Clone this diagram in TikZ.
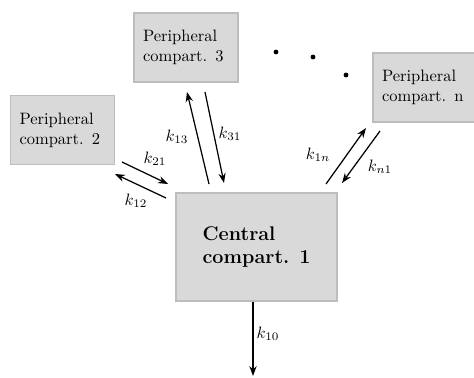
\documentclass[tikz,border=0pt]{standalone}
\usetikzlibrary{arrows.meta}
\definecolor{boxfill}{HTML}{D9D9D9}
\definecolor{boxline}{HTML}{BDBDBD}
\begin{document}
\begin{tikzpicture}[x=0.606pt,y=-0.606pt,
  comp/.style={draw=boxline,fill=boxfill,line width=1.2pt,align=left,inner sep=0pt},
  peri/.style={comp,inner xsep=9*0.606pt,text width=86*0.606pt,minimum height=69*0.606pt},
  flow/.style={-{Stealth[length=6pt,width=4.4pt]},line width=0.75pt},
  lab/.style={inner sep=0pt}]
\useasboundingbox (0,0) rectangle (474,377);
\node[peri] (c3) at (186,47.5) {Peripheral\\compart. 3};
\node[peri] (c2) at (62.5,130) {Peripheral\\compart. 2};
\node[peri] (cn) at (425,87.5) {Peripheral\\compart. n};
\node[comp,minimum width=161*0.606pt,minimum height=108*0.606pt,font=\large\bfseries] (c1) at (256.5,247) {Central\\compart. 1};
\foreach \p [count=\i] in {(276,52),(313,57),(346,75)}
  \fill \p circle[radius=2.4];
\coordinate (a13s) at (209,184); \coordinate (a13e) at (187,92);
\coordinate (a31s) at (205,92);  \coordinate (a31e) at (224,183);
\coordinate (a21s) at (122,162); \coordinate (a21e) at (168,184);
\coordinate (a12s) at (166,198); \coordinate (a12e) at (115,174);
\coordinate (a1ns) at (326,184); \coordinate (a1ne) at (366,128);
\coordinate (an1s) at (380,131); \coordinate (an1e) at (342,183);
\coordinate (a10s) at (c1.south); \coordinate (a10e) at (253,376);
\draw[flow] (a13s) -- (a13e);
\draw[flow] (a31s) -- (a31e);
\draw[flow] (a21s) -- (a21e);
\draw[flow] (a12s) -- (a12e);
\draw[flow] (a1ns) -- (a1ne);
\draw[flow] (an1s) -- (an1e);
\draw[flow] (a10s -| a10e) -- (a10e);
\node[lab] (l13) at (177,137) {$k_{13}$};
\node[lab] (l31) at (230,134) {$k_{31}$};
\node[lab] (l21) at (155,159) {$k_{21}$};
\node[lab] (l12) at (136,201) {$k_{12}$};
\node[lab] (l1n) at (318,155) {$k_{1n}$};
\node[lab] (ln1) at (380,167) {$k_{n1}$};
\node[lab] (l10) at (268,334) {$k_{10}$};
\end{tikzpicture}
\end{document}
